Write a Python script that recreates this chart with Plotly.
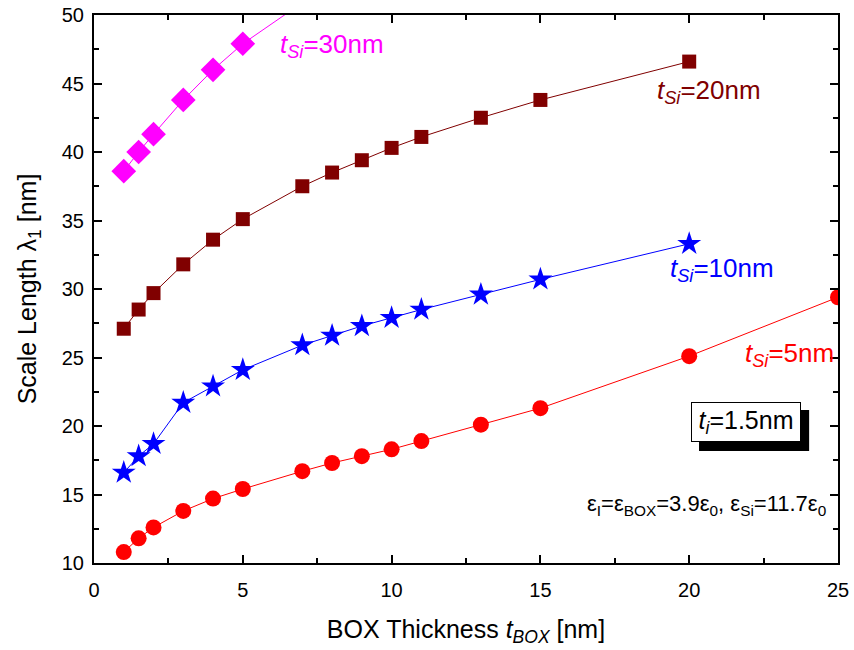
import plotly.graph_objects as go

tbox_5 = [1, 1.5, 2, 3, 4, 5, 7, 8, 9, 10, 11, 13, 15, 20, 25]
lam_5 = [10.8, 11.8, 12.6, 13.8, 14.7, 15.4, 16.7, 17.3, 17.8, 18.3, 18.9, 20.1, 21.3, 25.1, 29.4]

tbox_10 = [1, 1.5, 2, 3, 4, 5, 7, 8, 9, 10, 11, 13, 15, 20]
lam_10 = [16.6, 17.8, 18.7, 21.7, 22.9, 24.1, 25.9, 26.6, 27.3, 27.9, 28.5, 29.6, 30.7, 33.3]

tbox_20 = [1, 1.5, 2, 3, 4, 5, 7, 8, 9, 10, 11, 13, 15, 20]
lam_20 = [27.1, 28.5, 29.7, 31.8, 33.6, 35.1, 37.5, 38.5, 39.4, 40.3, 41.1, 42.5, 43.8, 46.6]

tbox_30 = [1, 1.5, 2, 3, 4, 5, 7]
lam_30 = [38.6, 40.0, 41.3, 43.8, 46.0, 47.9, 50.9]

FONT = "Liberation Sans, Arial, sans-serif"

fig = go.Figure()
series = [
    (tbox_5, lam_5, "#FF0000", "circle", 16, "t_Si=5nm"),
    (tbox_10, lam_10, "#0000FF", "star", 18, "t_Si=10nm"),
    (tbox_20, lam_20, "#800000", "square", 14, "t_Si=20nm"),
    (tbox_30, lam_30, "#FF00FF", "diamond", 19, "t_Si=30nm"),
]
for xs, ys, col, sym, sz, nm in series:
    fig.add_trace(go.Scatter(
        x=xs, y=ys, mode="lines+markers", name=nm,
        line=dict(color=col, width=1),
        marker=dict(color=col, symbol=sym, size=sz, line=dict(width=0)),
        cliponaxis=True,
    ))

labels = [
    (6.18, 47.8, "#FF00FF", "<i>t</i><sub><i>Si</i></sub>=30nm"),
    (18.85, 44.4, "#800000", "<i>t</i><sub><i>Si</i></sub>=20nm"),
    (19.3, 31.4, "#0000FF", "<i>t</i><sub><i>Si</i></sub>=10nm"),
    (21.8, 25.2, "#FF0000", "<i>t</i><sub><i>Si</i></sub>=5nm"),
]
for x, y, col, txt in labels:
    fig.add_annotation(x=x, y=y, xref="x", yref="y", text=txt, showarrow=False,
                       xanchor="left", yanchor="middle",
                       font=dict(family=FONT, size=26, color=col))

# shadow for the t_i box
fig.add_shape(type="rect", xref="x", yref="y", x0=20.33, x1=24.03, y0=18.18, y1=21.17,
              fillcolor="black", line=dict(width=0), layer="above")
fig.add_annotation(x=21.9, y=20.3, xref="x", yref="y",
                   text="<i>t</i><sub><i>i</i></sub>=1.5nm", showarrow=False,
                   xanchor="center", yanchor="middle", width=108, height=38,
                   bgcolor="white", bordercolor="black", borderwidth=1, borderpad=0,
                   font=dict(family=FONT, size=25, color="black"))

fig.add_annotation(x=24.65, y=14.2, xref="x", yref="y",
                   text="ε<sub>I</sub>=ε<sub>BOX</sub>=3.9ε<sub>0</sub>, ε<sub>Si</sub>=11.7ε<sub>0</sub>",
                   showarrow=False, xanchor="right", yanchor="middle",
                   font=dict(family=FONT, size=22, color="black"))

axis_common = dict(
    showline=True, linecolor="black", linewidth=2, mirror="allticks",
    ticks="inside", ticklen=8, tickwidth=2, tickcolor="black",
    showgrid=False, zeroline=False, automargin=False,
    tickfont=dict(family=FONT, size=20, color="black"),
)
fig.update_xaxes(range=[0, 25], dtick=5, tick0=0, ticklabelstandoff=8,
                 minor=dict(dtick=2.5, ticks="inside", ticklen=5, tickwidth=2, tickcolor="black"),
                 title=dict(text="BOX Thickness <i>t</i><sub><i>BOX</i></sub> [nm]",
                            font=dict(family=FONT, size=25, color="black"), standoff=20),
                 **axis_common)
fig.update_yaxes(range=[10, 50], dtick=5, tick0=10, ticklabelstandoff=4,
                 minor=dict(dtick=2.5, ticks="inside", ticklen=5, tickwidth=2, tickcolor="black"),
                 title=dict(text="Scale Length λ<sub>1</sub> [nm]",
                            font=dict(family=FONT, size=25, color="black"), standoff=18),
                 **axis_common)

fig.update_layout(
    width=854, height=650,
    margin=dict(l=94, r=16, t=15, b=87),
    paper_bgcolor="white", plot_bgcolor="white",
    showlegend=False,
    font=dict(family=FONT, color="black"),
)

fig.write_html("out.html")
